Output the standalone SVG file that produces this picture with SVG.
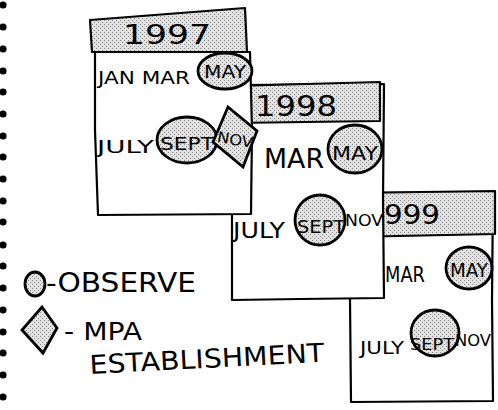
<svg xmlns="http://www.w3.org/2000/svg" width="498" height="410" viewBox="0 0 498 410">
<defs>
<pattern id="stip" width="4" height="4" patternUnits="userSpaceOnUse">
<rect width="4" height="4" fill="#e2e2e2"/>
<rect x="0" y="0" width="1" height="1" fill="#888"/>
<rect x="2" y="2" width="1" height="1" fill="#888"/>
</pattern>
<style>
.card{fill:#fff;stroke:#000;stroke-width:2.2;stroke-linejoin:round}
.hdr{fill:url(#stip);stroke:#000;stroke-width:2.2;stroke-linejoin:round}
.mark{fill:url(#stip);stroke:#000;stroke-width:2.8}
.t{font-family:"DejaVu Sans",sans-serif;fill:#000}
.dot{fill:#000}
</style>
</defs>
<g id="binding">
<circle class="dot" cx="3" cy="5" r="3.6"/><circle class="dot" cx="3" cy="27" r="3.6"/><circle class="dot" cx="3" cy="49" r="3.6"/><circle class="dot" cx="3" cy="71" r="3.6"/><circle class="dot" cx="3" cy="92" r="3.6"/><circle class="dot" cx="3" cy="114" r="3.6"/><circle class="dot" cx="3" cy="136" r="3.6"/><circle class="dot" cx="3" cy="157" r="3.6"/><circle class="dot" cx="3" cy="179" r="3.6"/><circle class="dot" cx="3" cy="201" r="3.6"/><circle class="dot" cx="3" cy="222" r="3.6"/><circle class="dot" cx="3" cy="245" r="3.6"/><circle class="dot" cx="3" cy="266" r="3.6"/><circle class="dot" cx="3" cy="288" r="3.6"/><circle class="dot" cx="3" cy="310" r="3.6"/><circle class="dot" cx="3" cy="332" r="3.6"/><circle class="dot" cx="3" cy="353" r="3.6"/><circle class="dot" cx="3" cy="375" r="3.6"/><circle class="dot" cx="3" cy="397" r="3.6"/>
</g>
<g id="card1999">
<path class="card" d="M350 193 L493 192 L492 300 L493 401 L351 402 L350 300 Z"/>
<path class="hdr" d="M350 193 L495 191 L495 234 L350 237 Z"/>
<text class="t" x="384" y="224" font-size="26" textLength="56" lengthAdjust="spacingAndGlyphs">999</text>
<text class="t" x="385" y="282" font-size="22" textLength="40" lengthAdjust="spacingAndGlyphs">MAR</text>
<ellipse class="mark" cx="469" cy="268" rx="23" ry="21"/>
<text class="t" x="469" y="277" font-size="20" text-anchor="middle" textLength="38" lengthAdjust="spacingAndGlyphs">MAY</text>
<text class="t" x="360" y="354" font-size="18" textLength="44" lengthAdjust="spacingAndGlyphs">JULY</text>
<ellipse class="mark" cx="435" cy="333" rx="24" ry="23"/>
<text class="t" x="410" y="350" font-size="16" textLength="44" lengthAdjust="spacingAndGlyphs">SEPT</text>
<text class="t" x="455" y="346" font-size="15" textLength="36" lengthAdjust="spacingAndGlyphs">NOV</text>
</g>
<g id="card1998">
<path class="card" d="M232 85 L384 84 L383 200 L384 298 L300 299 L232 300 Z"/>
<path class="hdr" d="M232 86 L380 82 L380 121 L232 123 Z"/>
<text class="t" x="255" y="116" font-size="28" textLength="82" lengthAdjust="spacingAndGlyphs">1998</text>
<text class="t" x="264" y="168" font-size="26" textLength="60" lengthAdjust="spacingAndGlyphs">MAR</text>
<ellipse class="mark" cx="355" cy="149" rx="27" ry="24"/>
<text class="t" x="355" y="160" font-size="20" text-anchor="middle" textLength="46" lengthAdjust="spacingAndGlyphs">MAY</text>
<text class="t" x="233" y="238" font-size="22" textLength="52" lengthAdjust="spacingAndGlyphs">JULY</text>
<ellipse class="mark" cx="320" cy="220" rx="25" ry="25"/>
<text class="t" x="297" y="233" font-size="18" textLength="48" lengthAdjust="spacingAndGlyphs">SEPT</text>
<text class="t" x="345" y="226" font-size="16" textLength="38" lengthAdjust="spacingAndGlyphs">NOV</text>
</g>
<g id="card1997">
<path class="card" d="M95 52 L250 52 L252 130 L251 214 L98 215 L95 130 Z"/>
<path class="hdr" d="M90 20 L245 8 L247 52 L92 52 Z"/>
<text class="t" x="123" y="44" font-size="27" textLength="88" lengthAdjust="spacingAndGlyphs">1997</text>
<text class="t" x="98" y="84" font-size="17" textLength="92" lengthAdjust="spacingAndGlyphs">JAN MAR</text>
<ellipse class="mark" cx="225" cy="71" rx="27" ry="18"/>
<text class="t" x="225" y="78" font-size="17" text-anchor="middle" textLength="42" lengthAdjust="spacingAndGlyphs">MAY</text>
<text class="t" x="97" y="153" font-size="17" textLength="57" lengthAdjust="spacingAndGlyphs">JULY</text>
<ellipse class="mark" cx="187" cy="140" rx="30" ry="23"/>
<text class="t" x="160" y="150" font-size="18" textLength="54" lengthAdjust="spacingAndGlyphs">SEPT</text>
<polygon class="mark" points="228,107 257,131 243,167 213,142"/>
<text class="t" x="217" y="145" font-size="15" textLength="36" lengthAdjust="spacingAndGlyphs" transform="rotate(10 235 140)">NOV</text>
</g>
<g id="legend">
<ellipse class="mark" cx="35" cy="284" rx="10" ry="12"/>
<text class="t" x="46" y="292" font-size="26" textLength="150" lengthAdjust="spacingAndGlyphs">-OBSERVE</text>
<polygon class="mark" points="42,307 57,328 43,353 22,330"/>
<text class="t" x="64" y="340" font-size="24" textLength="78" lengthAdjust="spacingAndGlyphs">- MPA</text>
<text class="t" x="90" y="374" font-size="26" textLength="235" lengthAdjust="spacingAndGlyphs" transform="rotate(-3 90 374)">ESTABLISHMENT</text>
</g>
<g id="connectors"/>
</svg>
